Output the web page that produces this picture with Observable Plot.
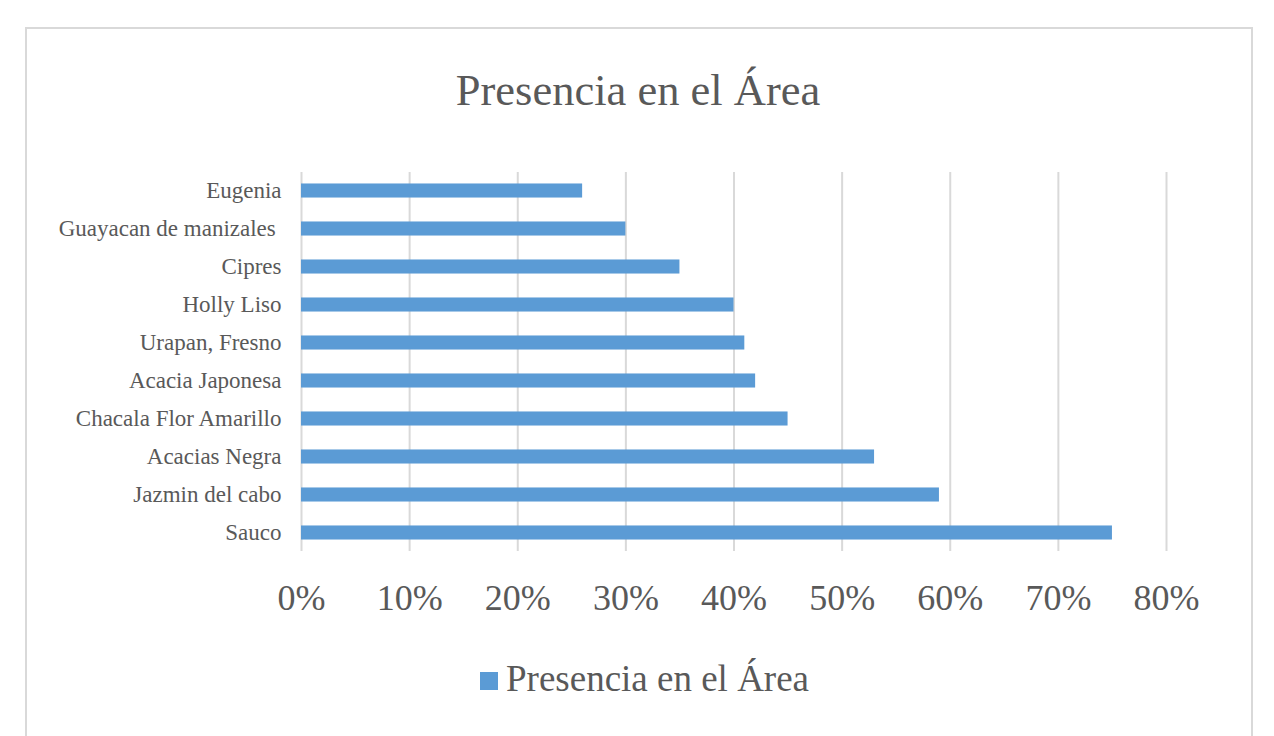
<!DOCTYPE html>
<html>
<head>
<meta charset="utf-8">
<script src="https://cdn.jsdelivr.net/npm/d3@7"></script>
<script src="https://cdn.jsdelivr.net/npm/@observablehq/plot@0.6"></script>
<style>
  html, body { margin: 0; padding: 0; background: #fff; width: 1274px; height: 736px; overflow: hidden; position: relative; font-family: "Liberation Serif", "DejaVu Serif", serif; color: #595959; }
  #frame { position: absolute; left: 25px; top: 27px; width: 1228px; height: 760px; border: 2px solid #d9d9d9; box-sizing: border-box; }
  #title { position: absolute; left: 0; width: 1276px; top: 65px; text-align: center; font-size: 44.5px; line-height: 50px; white-space: nowrap; }
  #chart { position: absolute; left: 0; top: 150px; }
  #legend { position: absolute; left: 480px; top: 657px; font-size: 37px; line-height: 44px; white-space: nowrap; display: flex; align-items: center; }
  #legend .sw { width: 18px; height: 18px; background: #5b9bd5; margin-right: 8px; margin-top: 4px; }
</style>
</head>
<body>
<div id="frame"></div>
<div id="title">Presencia en el Área</div>
<div id="chart"></div>
<div id="legend"><span class="sw"></span><span>Presencia en el Área</span></div>
<script>
const categories = ["Eugenia", "Guayacan de manizales\u00a0", "Cipres", "Holly Liso", "Urapan, Fresno", "Acacia Japonesa", "Chacala Flor Amarillo", "Acacias Negra", "Jazmin del cabo", "Sauco"];
const values = [0.26, 0.30, 0.35, 0.40, 0.41, 0.42, 0.45, 0.53, 0.59, 0.75];
const xTicks = [0, 0.1, 0.2, 0.3, 0.4, 0.5, 0.6, 0.7, 0.8];
const seriesName = "Presencia en el Área";

const data = categories.map((c, i) => ({name: c, value: values[i]}));

const chart = Plot.plot({
  width: 1274,
  height: 480,
  marginTop: 22,
  marginBottom: 79,
  marginLeft: 301,
  marginRight: 108,
  style: {fontFamily: "'Liberation Serif', serif", color: "#595959", background: "transparent"},
  x: {domain: [0, 0.8], ticks: xTicks, label: null},
  y: {domain: categories, paddingInner: 0.63, paddingOuter: 0.302, align: 0.5, round: false, label: null},
  marks: [
    Plot.gridX(xTicks, {stroke: "#d9d9d9", strokeOpacity: 1, strokeWidth: 2}),
    Plot.barX(data, {x: "value", y: "name", fill: "#5b9bd5"}),
    Plot.axisX({ticks: xTicks, tickFormat: d => Math.round(d * 100) + "%", tickSize: 0, tickPadding: 33, fontSize: 36, fill: "#595959", label: null}),
    Plot.axisY({tickSize: 0, tickPadding: 20, fontSize: 23, fill: "#595959", label: null})
  ]
});
document.getElementById("chart").appendChild(chart);
</script>
</body>
</html>
